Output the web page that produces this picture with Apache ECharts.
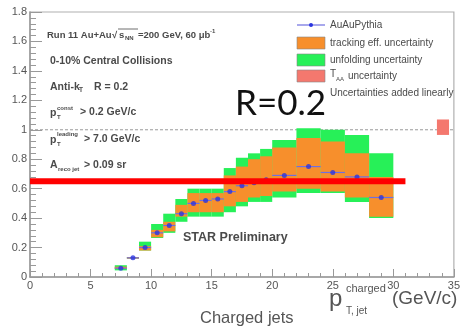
<!DOCTYPE html>
<html>
<head>
<meta charset="utf-8">
<script src="https://cdn.jsdelivr.net/npm/echarts@6/dist/echarts.min.js"></script>
<style>
  html, body { margin: 0; padding: 0; background: #fff; }
  #chart { width: 463px; height: 330px; }
</style>
</head>
<body>
<div id="chart"></div>
<script>
// Jet pT bins (GeV/c)
const binLo = [7, 8, 9, 10, 11, 12, 13, 14, 15, 16, 17, 18, 19, 20, 22, 24, 26, 28];
const binHi = [8, 9, 10, 11, 12, 13, 14, 15, 16, 17, 18, 19, 20, 22, 24, 26, 28, 30];
// AuAu / Pythia ratio
const ratio = [0.06, 0.13, 0.20, 0.30, 0.35, 0.43, 0.50, 0.52, 0.53, 0.58, 0.62, 0.64, 0.66, 0.69, 0.75, 0.71, 0.68, 0.54];
// tracking efficiency uncertainty band
const trackLo = [0.055, 0.125, 0.18, 0.27, 0.31, 0.41, 0.44, 0.44, 0.44, 0.48, 0.51, 0.54, 0.55, 0.58, 0.60, 0.58, 0.54, 0.41];
const trackHi = [0.07, 0.135, 0.21, 0.32, 0.375, 0.49, 0.57, 0.57, 0.57, 0.69, 0.75, 0.80, 0.82, 0.88, 0.945, 0.92, 0.84, 0.68];
// unfolding uncertainty band (added linearly on top of tracking)
const unfoldLo = [0.045, 0.125, 0.18, 0.265, 0.30, 0.375, 0.41, 0.41, 0.41, 0.44, 0.48, 0.51, 0.51, 0.54, 0.57, 0.57, 0.51, 0.40];
const unfoldHi = [0.08, 0.135, 0.24, 0.36, 0.43, 0.53, 0.60, 0.60, 0.60, 0.74, 0.81, 0.84, 0.87, 0.93, 1.01, 1.0, 0.965, 0.84];
// TAA normalisation uncertainty box
const taaX = [33.6, 34.6];
const taaY = [0.965, 1.07];
// reference levels
const unityY = 1;
const redLineX = [0, 31];
const redLineY = 0.65;
// axes
const xTicks = { min: 0, max: 35, interval: 5 };
const yTicks = { min: 0, max: 1.8, interval: 0.2 };

const COL_TRACK = '#f78f2c';
const COL_UNFOLD = '#27f058';
const COL_TAA = '#f4786e';
const COL_POINT = '#2a35e0';
const COL_ERR = '#6f6fe0';
const TXT = '#4a4a4a';
const FONT = 'Liberation Sans';

function bandSeries(name, lo, hi, color, z) {
  return {
    name, type: 'custom', z,
    data: binLo.map((b, i) => [b, binHi[i], lo[i], hi[i]]),
    renderItem(params, api) {
      const p0 = api.coord([api.value(0), api.value(3)]);
      const p1 = api.coord([api.value(1), api.value(2)]);
      return {
        type: 'rect',
        shape: { x: p0[0], y: p0[1], width: p1[0] - p0[0], height: Math.max(p1[1] - p0[1], 1) },
        style: { fill: color }
      };
    }
  };
}

const chart = echarts.init(document.getElementById('chart'), null, { renderer: 'canvas' });

const txt = (x, y, text, size, extra) => ({
  type: 'text', x, y,
  style: Object.assign({ text, fill: TXT, font: `bold ${size}px "${FONT}"`, textVerticalAlign: 'middle' }, extra || {})
});
const plain = (size) => ({ font: `${size}px "${FONT}"` });

const graphics = [
  // header annotations
  txt(47, 35, 'Run 11 Au+Au ', 9.5),
  txt(112, 35, '√', 9.5),
  txt(119, 35, 's', 9.5),
  txt(125, 38, 'NN', 6),
  { type: 'line', shape: { x1: 118, y1: 29, x2: 138, y2: 29 }, style: { stroke: TXT, lineWidth: 0.8 } },
  txt(138, 35, '=200 GeV, 60 μb', 9.5),
  txt(210, 31, '-1', 6),
  txt(50, 61, '0-10% Central Collisions', 10.5),
  txt(50, 87, 'Anti-k', 10.5),
  txt(79, 90, 'T', 6.5),
  txt(94, 87, 'R = 0.2', 10.5),
  txt(50, 113, 'p', 10.5),
  txt(57, 108, 'const', 6),
  txt(57, 117, 'T', 6),
  txt(80, 112, '> 0.2 GeV/c', 10.5),
  txt(50, 140, 'p', 10.5),
  txt(57, 134, 'leading', 6),
  txt(57, 144, 'T', 6),
  txt(84, 139, '> 7.0 GeV/c', 10.5),
  txt(50, 165, 'A', 10.5),
  txt(58, 169, 'reco jet', 6),
  txt(84, 165, '> 0.09 sr', 10.5),
  txt(183, 238, 'STAR Preliminary', 12.5),
  // radius label
  { type: 'text', x: 235, y: 104, style: { text: 'R=0.2', fill: '#111', font: '35px "Lato"', textVerticalAlign: 'middle' } },
  // legend
  { type: 'line', shape: { x1: 297, y1: 25, x2: 325, y2: 25 }, style: { stroke: COL_ERR, lineWidth: 1.2 } },
  { type: 'circle', shape: { cx: 311, cy: 25, r: 2 }, style: { fill: COL_POINT } },
  { type: 'rect', shape: { x: 297, y: 37, width: 28, height: 12 }, style: { fill: COL_TRACK, stroke: '#888', lineWidth: 0.6 } },
  { type: 'rect', shape: { x: 297, y: 54, width: 28, height: 12 }, style: { fill: COL_UNFOLD, stroke: '#888', lineWidth: 0.6 } },
  { type: 'rect', shape: { x: 297, y: 70, width: 28, height: 12 }, style: { fill: COL_TAA, stroke: '#888', lineWidth: 0.6 } },
  txt(330, 25, 'AuAuPythia', 10, plain(10)),
  txt(330, 43, 'tracking eff. uncertainty', 10, plain(10)),
  txt(330, 60, 'unfolding uncertainty', 10, plain(10)),
  txt(330, 74, 'T', 10, plain(10)),
  txt(336, 79, 'AA', 6, plain(6)),
  txt(348, 76, 'uncertainty', 10, plain(10)),
  txt(330, 93, 'Uncertainties added linearly', 10, plain(10)),
  // axis titles
  { type: 'text', x: 200, y: 318, style: { text: 'Charged jets', fill: '#555', font: `16.5px "${FONT}"`, textVerticalAlign: 'middle' } },
  { type: 'text', x: 329, y: 299, style: { text: 'p', fill: '#555', font: `24px "${FONT}"`, textVerticalAlign: 'middle' } },
  { type: 'text', x: 346, y: 289, style: { text: 'charged', fill: '#555', font: `11px "${FONT}"`, textVerticalAlign: 'middle' } },
  { type: 'text', x: 346, y: 311, style: { text: 'T, jet', fill: '#555', font: `10px "${FONT}"`, textVerticalAlign: 'middle' } },
  { type: 'text', x: 392, y: 299, style: { text: '(GeV/c)', fill: '#555', font: `19px "${FONT}"`, textVerticalAlign: 'middle' } }
];

const option = {
  animation: false,
  backgroundColor: '#fff',
  grid: { left: 30, right: 3, top: 12, bottom: 53, show: true, borderColor: '#b0b0b0', borderWidth: 1.2, backgroundColor: 'transparent' },
  xAxis: {
    type: 'value', min: xTicks.min, max: xTicks.max, interval: xTicks.interval,
    axisLine: { lineStyle: { color: '#999', width: 1.5 } },
    axisTick: { inside: true, length: 8, lineStyle: { color: '#999', width: 1 } },
    minorTick: { show: true, splitNumber: 5, length: 4, lineStyle: { color: '#999', width: 1 } },
    splitLine: { show: false },
    axisLabel: { color: '#555', fontSize: 11, fontFamily: FONT, margin: 3 }
  },
  yAxis: {
    type: 'value', min: yTicks.min, max: yTicks.max, interval: yTicks.interval,
    axisLine: { show: true, lineStyle: { color: '#999', width: 1.5 } },
    axisTick: { show: true, inside: true, length: 12, lineStyle: { color: '#999', width: 1 } },
    minorTick: { show: true, splitNumber: 5, length: 6, lineStyle: { color: '#999', width: 1 } },
    splitLine: { show: false },
    axisLabel: { color: '#555', fontSize: 11, fontFamily: FONT, margin: 3 }
  },
  series: [
    bandSeries('unfolding uncertainty', unfoldLo, unfoldHi, COL_UNFOLD, 2),
    bandSeries('tracking eff. uncertainty', trackLo, trackHi, COL_TRACK, 3),
    {
      name: 'unity', type: 'line', z: 1, symbol: 'none', silent: true,
      data: [[xTicks.min, unityY], [xTicks.max, unityY]],
      lineStyle: { color: '#999', width: 1, type: [3, 2] }
    },
    {
      name: 'T_AA uncertainty', type: 'custom', z: 4,
      data: [[taaX[0], taaX[1], taaY[0], taaY[1]]],
      renderItem(params, api) {
        const p0 = api.coord([api.value(0), api.value(3)]);
        const p1 = api.coord([api.value(1), api.value(2)]);
        return { type: 'rect', shape: { x: p0[0], y: p0[1], width: p1[0] - p0[0], height: p1[1] - p0[1] }, style: { fill: COL_TAA } };
      }
    },
    {
      name: 'AuAuPythia errors', type: 'custom', z: 5,
      data: binLo.map((b, i) => [b, binHi[i], ratio[i]]),
      renderItem(params, api) {
        const a = api.coord([api.value(0), api.value(2)]);
        const b = api.coord([api.value(1), api.value(2)]);
        return { type: 'line', shape: { x1: a[0], y1: a[1], x2: b[0], y2: b[1] }, style: { stroke: COL_ERR, lineWidth: 1.2 } };
      }
    },
    {
      name: 'AuAuPythia', type: 'scatter', z: 6,
      data: binLo.map((b, i) => [(b + binHi[i]) / 2, ratio[i]]),
      symbol: 'circle', symbolSize: 5,
      itemStyle: { color: COL_POINT }
    },
    {
      name: 'level', type: 'line', z: 7, symbol: 'none', silent: true,
      data: [[redLineX[0], redLineY], [redLineX[1], redLineY]],
      lineStyle: { color: '#ff0000', width: 6, cap: 'butt' }
    }
  ],
  graphic: graphics
};

chart.setOption(option);
</script>
</body>
</html>
